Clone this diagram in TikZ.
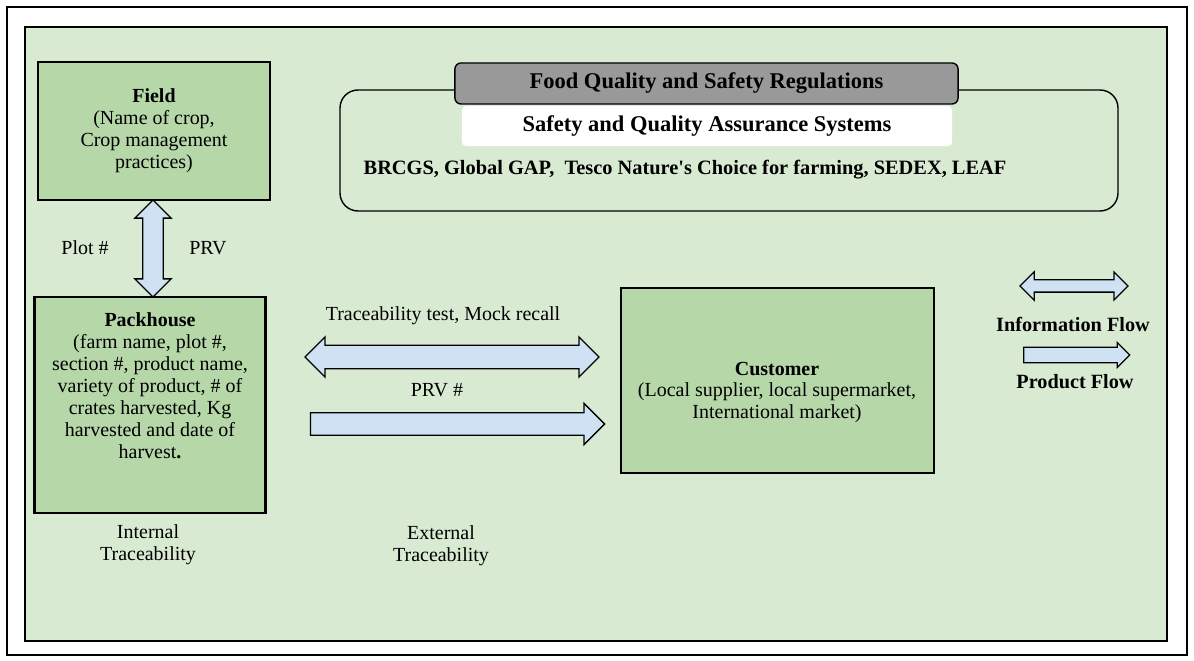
\documentclass[tikz,border=0pt]{standalone}
\usepackage{fontspec}
\setmainfont{Liberation Serif}[Ligatures=TeXOff]
\usetikzlibrary{shapes.arrows,positioning,calc}

\definecolor{bggreen}{HTML}{D9EAD3}
\definecolor{boxgreen}{HTML}{B6D7A8}
\definecolor{flowblue}{HTML}{CFE2F3}
\definecolor{reggray}{HTML}{999999}

\begin{document}
\begin{tikzpicture}[x=0.025cm,y=-0.025cm,
    every node/.style={font=\fontsize{14.2}{15.6}\selectfont,align=center},
    stage/.style={draw,line width=1.9pt,fill=boxgreen},
    infoflow/.style={double arrow,draw,line width=0.9pt,fill=flowblue,inner xsep=0pt},
    prodflow/.style={single arrow,draw,line width=0.9pt,fill=flowblue,inner xsep=0pt}]
  \useasboundingbox (0,0) rectangle (1194,661);
  % page and background panel
  \draw[line width=1.2pt,fill=white] (7,7) rectangle (1187,655);
  \draw[line width=1.8pt,fill=bggreen] (25,27) rectangle (1167,641);

  % regulations block
  \draw[line width=1pt,rounded corners=0.45cm] (340,90) rectangle (1118,211);
  \node[draw,line width=1pt,fill=reggray,rounded corners=0.15cm,
        minimum width=12.575cm,minimum height=1.025cm,font=\fontsize{16}{18}\selectfont\bfseries]
        (regs) at (706.5,83.5) {Food Quality and Safety Regulations};
  \node[fill=white,rounded corners=0.1cm,minimum width=12.25cm,minimum height=1cm,
        font=\fontsize{16}{18}\selectfont\bfseries]
        (sqas) at (707,126) {Safety and Quality Assurance Systems};
  \node[font=\fontsize{14.5}{16}\selectfont\bfseries] (schemes) at (685,170)
        {BRCGS, Global GAP,\ \ Tesco Nature's Choice for farming, SEDEX, LEAF};

  % chain of stages
  \node[stage,minimum width=5.8cm,minimum height=3.45cm] (field) at (154,131)
        {\textbf{Field}\\(Name of crop,\\Crop management\\practices)};
  \node[stage,minimum width=5.775cm,minimum height=5.4cm] (pack) at (150,405) {};
  \node (packtext) at (150,386)
        {\textbf{Packhouse}\\(farm name, plot \#,\\section \#, product name,\\variety of product, \# of\\crates harvested, Kg\\harvested and date of\\harvest\textbf{.}};
  \node[stage,minimum width=7.825cm,minimum height=4.625cm] (cust) at (777.5,380.5) {};
  \node (custtext) at (777,392.5)
        {\textbf{Customer}\\(Local supplier, local supermarket,\\International market)};

  % flows
  \node[infoflow,rotate=90,minimum height=2.425cm,inner ysep=0.2375cm,
        double arrow head extend=0.2cm] (fp) at ($(field.south)!0.5!(pack.north)+(1,0)$) {};
  \node (plot) at (85,248) {Plot \#};
  \node (prv) at (208,248) {PRV};

  \node[infoflow,minimum height=7.35cm,inner ysep=0.275cm,
        double arrow head extend=0.2125cm] (recall) at (452,357) {};
  \node (recalltext) at (443,316) {Traceability test, Mock recall};
  \node[prodflow,minimum height=7.35cm,inner ysep=0.2625cm,
        single arrow head extend=0.2375cm] (ship) at (452,424) {};
  \node (prvno) at (437,390) {PRV \#};

  % legend
  \node[infoflow,minimum height=2.7cm,inner ysep=0.1375cm,
        double arrow head extend=0.2cm] (keyinfo) at (1074,286) {};
  \node[font=\fontsize{14.4}{16}\selectfont\bfseries] (keyinfotext) at (1073,324) {Information Flow};
  \node[prodflow,minimum height=2.65cm,inner ysep=0.175cm,
        single arrow head extend=0.125cm] (keyprod) at (1073,355) {};
  \node[font=\fontsize{14.4}{16}\selectfont\bfseries] (keyprodtext) at (1075,382) {Product Flow};

  % traceability scopes
  \node (internal) at (148,545) {Internal\\Traceability};
  \node (external) at (441,546) {External\\Traceability};
\end{tikzpicture}
\end{document}
